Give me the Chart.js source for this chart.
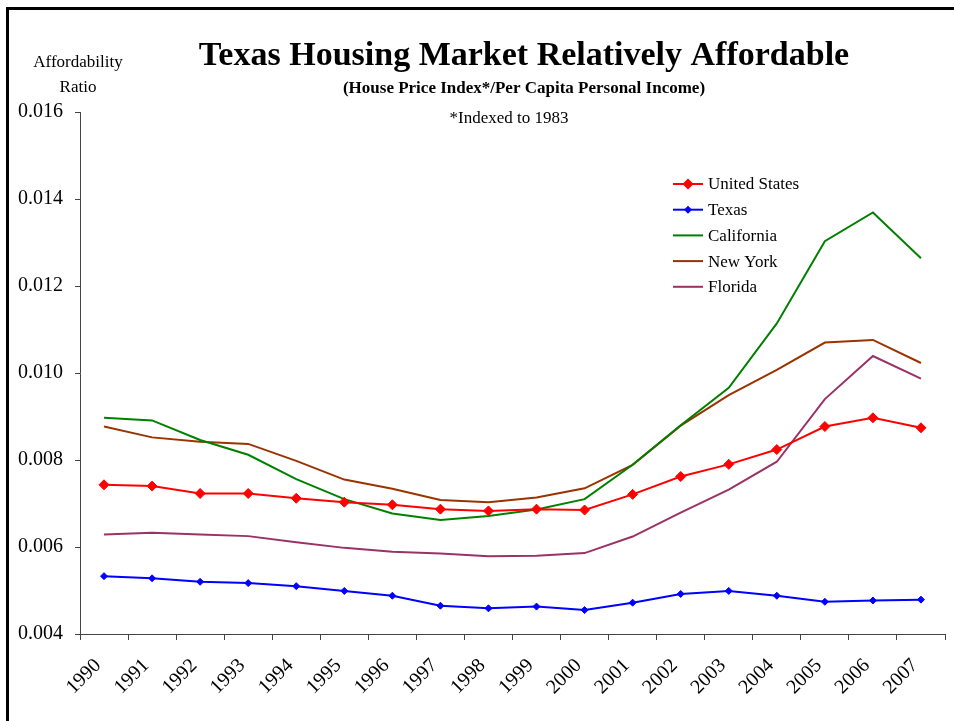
<!DOCTYPE html>
<html lang="en">
<head>
    <meta charset="UTF-8">
    <title>Texas Housing Market Relatively Affordable</title>
    <script src="https://cdn.jsdelivr.net/npm/chart.js"></script>
    <style>
        body { margin: 0; background: #fff; }
        #wrap { position: relative; width: 954px; height: 721px; }
    </style>
</head>
<body>
    <div id="wrap">
        <canvas id="chartCanvas" width="954" height="721"></canvas>
    </div>

    <script>
        // Data
        const years = ['1990', '1991', '1992', '1993', '1994', '1995', '1996', '1997', '1998',
                       '1999', '2000', '2001', '2002', '2003', '2004', '2005', '2006', '2007'];
        const unitedStates = [0.00743, 0.00740, 0.00723, 0.00723, 0.00712, 0.00703, 0.00697, 0.00687, 0.00683,
                              0.00687, 0.00685, 0.00721, 0.00762, 0.00790, 0.00824, 0.00877, 0.00897, 0.00874];
        const texas = [0.00533, 0.00528, 0.00520, 0.00517, 0.00510, 0.00499, 0.00488, 0.00465, 0.00459,
                       0.00463, 0.00455, 0.00472, 0.00492, 0.00499, 0.00488, 0.00474, 0.00477, 0.00479];
        const california = [0.00897, 0.00891, 0.00846, 0.00812, 0.00756, 0.00710, 0.00677, 0.00662, 0.00671,
                            0.00686, 0.00710, 0.00789, 0.00880, 0.00966, 0.01114, 0.01303, 0.01369, 0.01264];
        const newYork = [0.00877, 0.00852, 0.00842, 0.00837, 0.00798, 0.00755, 0.00734, 0.00708, 0.00703,
                         0.00714, 0.00735, 0.00789, 0.00879, 0.00949, 0.01007, 0.01070, 0.01076, 0.01023];
        const florida = [0.00629, 0.00633, 0.00629, 0.00625, 0.00611, 0.00598, 0.00589, 0.00585, 0.00579,
                         0.00580, 0.00586, 0.00624, 0.00679, 0.00732, 0.00796, 0.00940, 0.01039, 0.00987];

        const serif = '"Liberation Serif", "Times New Roman", serif';

        // Titles, axis caption, note, legend and page frame are drawn here
        const annotations = {
            id: 'annotations',
            afterDraw(chart) {
                const ctx = chart.ctx;
                ctx.save();
                ctx.fillStyle = '#000';
                ctx.fillRect(6, 7, 948, 3);
                ctx.fillRect(6, 7, 3, 714);

                ctx.textAlign = 'center';
                ctx.textBaseline = 'middle';
                ctx.font = 'bold 34px ' + serif;
                ctx.fillText('Texas Housing Market Relatively Affordable', 524, 56);
                ctx.font = 'bold 17px ' + serif;
                ctx.fillText('(House Price Index*/Per Capita Personal Income)', 524, 89);
                ctx.font = '17px ' + serif;
                ctx.fillText('*Indexed to 1983', 509, 119);
                ctx.fillText('Affordability', 78, 63);
                ctx.fillText('Ratio', 78, 88);

                // legend inside the plot
                ctx.textAlign = 'left';
                chart.data.datasets.forEach((ds, i) => {
                    const y = 184 + i * 25.7;
                    ctx.strokeStyle = ds.borderColor;
                    ctx.lineWidth = 2;
                    ctx.beginPath();
                    ctx.moveTo(673, y);
                    ctx.lineTo(703, y);
                    ctx.stroke();
                    if (ds.pointRadius > 0) {
                        const r = ds.pointRadius + 0.5;
                        ctx.fillStyle = ds.backgroundColor;
                        ctx.beginPath();
                        ctx.moveTo(688 - r, y);
                        ctx.lineTo(688, y - r);
                        ctx.lineTo(688 + r, y);
                        ctx.lineTo(688, y + r);
                        ctx.closePath();
                        ctx.fill();
                    }
                    ctx.fillStyle = '#000';
                    ctx.fillText(ds.label, 708, y + 1);
                });
                ctx.restore();
            }
        };

        const ctx = document.getElementById('chartCanvas').getContext('2d');

        const chart = new Chart(ctx, {
            type: 'line',
            data: {
                labels: years,
                datasets: [
                    { label: 'United States', data: unitedStates, borderColor: '#ff0000', backgroundColor: '#ff0000',
                      pointStyle: 'rectRot', pointRadius: 5, pointBorderWidth: 1, borderWidth: 2 },
                    { label: 'Texas', data: texas, borderColor: '#0000ff', backgroundColor: '#0000ff',
                      pointStyle: 'rectRot', pointRadius: 3.5, pointBorderWidth: 1, borderWidth: 2 },
                    { label: 'California', data: california, borderColor: '#008000', backgroundColor: '#008000',
                      pointRadius: 0, borderWidth: 2 },
                    { label: 'New York', data: newYork, borderColor: '#993300', backgroundColor: '#993300',
                      pointRadius: 0, borderWidth: 2 },
                    { label: 'Florida', data: florida, borderColor: '#993366', backgroundColor: '#993366',
                      pointRadius: 0, borderWidth: 2 }
                ]
            },
            options: {
                responsive: false,
                animation: false,
                layout: { padding: { top: 112, right: 9, left: 0, bottom: 0 } },
                plugins: {
                    legend: { display: false },
                    title: { display: false },
                    tooltip: { enabled: false }
                },
                scales: {
                    x: {
                        offset: true,
                        grid: { offset: true, drawOnChartArea: false, tickLength: 6, color: '#444' },
                        border: { color: '#444', width: 1 },
                        ticks: {
                            minRotation: 45, maxRotation: 45, autoSkip: false,
                            color: '#000', padding: 14, labelOffset: -6,
                            font: { family: serif, size: 20 }
                        },
                        afterFit(scale) { scale.height = 87; }
                    },
                    y: {
                        min: 0.004,
                        max: 0.016,
                        grid: { drawOnChartArea: false, tickLength: 5, color: '#444' },
                        border: { color: '#444', width: 1 },
                        ticks: {
                            stepSize: 0.002,
                            color: '#000',
                            padding: 12,
                            font: { family: serif, size: 20 },
                            callback: v => v.toFixed(3)
                        },
                        afterFit(scale) { scale.width = 80; }
                    }
                }
            },
            plugins: [annotations]
        });
    </script>
</body>
</html>
